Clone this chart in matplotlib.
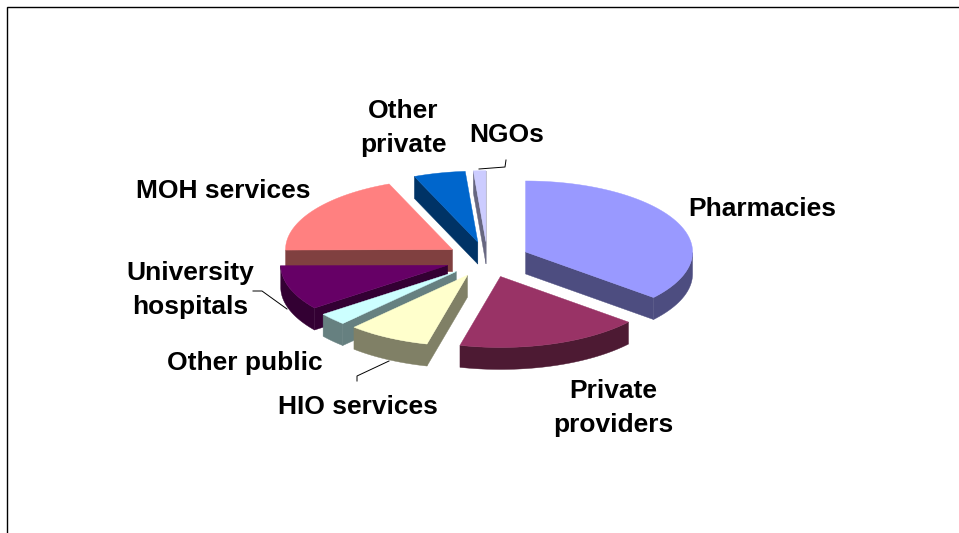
import numpy as np
import matplotlib
matplotlib.use("Agg")
import matplotlib.pyplot as plt
from matplotlib.patches import Polygon, Rectangle

plt.rcParams['font.family'] = ['Liberation Sans', 'DejaVu Sans']

categories = ["Pharmacies", "Private\nproviders", "HIO services", "Other public",
              "University\nhospitals", "MOH services", "Other\nprivate", "NGOs"]
shares = [36.1, 17.8, 8.0, 2.8, 10.2, 18.9, 5.0, 1.2]
top_colors = ["#9999FF", "#993366", "#FFFFCC", "#CCFFFF", "#660066", "#FF8080", "#0066CC", "#CCCCFF"]
label_xy = [(688, 209), (613, 408), (358, 407), (245, 363), (190, 290), (223, 191), (403, 128), (507, 135)]
leader_lines = [((253, 262, 287), (291, 291, 309)),
                ((357, 357, 389), (381, 376, 361)),
                ((479, 505, 506), (169, 167, 160))]

W, H = 959, 533
fig = plt.figure(figsize=(W / 100, H / 100), dpi=100)
ax = fig.add_axes([0, 0, 1, 1])
ax.set_xlim(0, W)
ax.set_ylim(H, 0)
ax.axis("off")
ax.add_patch(Rectangle((7, 7), W + 20, H + 20, fc="white", ec="black", lw=1))

cx, cy = 487.5, 259.5
rx, tilt, depth, explode = 167, 0.425, 22, 42


def dark(c, f=0.5):
    return tuple(v * f for v in matplotlib.colors.to_rgb(c))


def pt(a, r=1.0):
    return np.array([r * rx * np.sin(a), -r * rx * tilt * np.cos(a)])


edges = np.deg2rad(np.cumsum([0] + shares) / sum(shares) * 360)
order = sorted(range(len(shares)), key=lambda i: pt((edges[i] + edges[i + 1]) / 2)[1])
dz = np.array([0, depth])
for i in order:
    a0, a1 = edges[i], edges[i + 1]
    mid = (a0 + a1) / 2
    apex = np.array([cx, cy]) + pt(mid, explode / rx)
    angles = np.linspace(a0, a1, 80)
    arc = apex + np.array([pt(a) for a in angles])
    c = top_colors[i]
    side = dark(c)
    front = np.cos(angles) < 0
    if front.sum() > 1:
        seg = arc[front]
        ax.add_patch(Polygon(np.vstack([seg, (seg + dz)[::-1]]), fc=side, ec=side, lw=0.3))
    if np.sin(a0) < 0:
        ax.add_patch(Polygon([apex, arc[0], arc[0] + dz, apex + dz], fc=side, ec=side, lw=0.3))
    if np.sin(a1) > 0:
        ax.add_patch(Polygon([apex, arc[-1], arc[-1] + dz, apex + dz], fc=side, ec=side, lw=0.3))
    ax.add_patch(Polygon(np.vstack([apex, arc]), fc=c, ec=c, lw=0.3))

for name, (x, y) in zip(categories, label_xy):
    ha = "left" if name == "Pharmacies" else "center"
    ax.text(x, y, name, ha=ha, va="center", fontsize=19, fontweight="bold",
            color="black", linespacing=1.5)

for xs, ys in leader_lines:
    ax.plot(xs, ys, color="black", lw=0.7)

fig.savefig("out.png", dpi=100)
